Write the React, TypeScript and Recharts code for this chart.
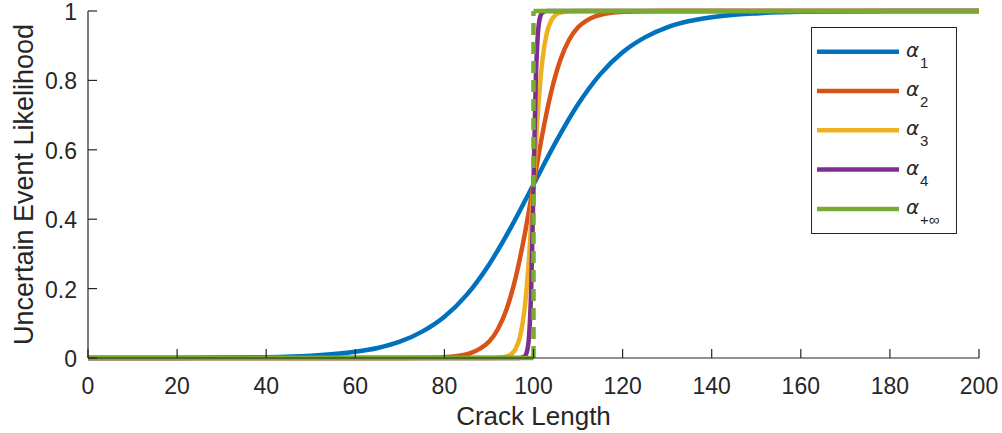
import { Label, Line, LineChart, XAxis, YAxis } from "recharts";

// values (crack length -> likelihood)
const alpha1X = [0, 20, 40, 50, 60, 65, 70, 75, 80, 85, 90, 95, 100, 105, 110, 115, 120, 125, 130, 135, 140, 150, 160, 180, 200];
const alpha1Y = [0.00005, 0.0003, 0.0025, 0.0067, 0.018, 0.029, 0.047, 0.076, 0.119, 0.182, 0.269, 0.378, 0.5, 0.622, 0.731, 0.818, 0.881, 0.924, 0.953, 0.971, 0.982, 0.993, 0.9975, 0.9997, 1];

const alpha2X = [0, 60, 70, 75, 80, 84, 86, 88, 90, 92, 94, 96, 98, 100, 102, 104, 106, 108, 110, 112, 114, 116, 120, 125, 130, 140, 200];
const alpha2Y = [0, 0, 0.0001, 0.0006, 0.0025, 0.008, 0.015, 0.027, 0.047, 0.083, 0.142, 0.232, 0.354, 0.5, 0.646, 0.768, 0.858, 0.917, 0.953, 0.973, 0.985, 0.992, 0.9975, 0.9995, 0.9999, 1, 1];

const alpha3X = [0, 90, 92, 94, 95, 96, 97, 98, 99, 100, 101, 102, 103, 104, 105, 106, 108, 110, 200];
const alpha3Y = [0, 0.0001, 0.0008, 0.0045, 0.011, 0.027, 0.063, 0.142, 0.289, 0.5, 0.711, 0.858, 0.937, 0.973, 0.989, 0.9955, 0.9993, 0.9999, 1];

const alpha4X = [0, 97, 98, 98.5, 99, 99.5, 100, 100.5, 101, 101.5, 102, 103, 200];
const alpha4Y = [0, 0.0003, 0.0045, 0.017, 0.063, 0.206, 0.5, 0.794, 0.937, 0.983, 0.9955, 0.9997, 1];

const alphaInfX = [0, 100, 100, 100, 200];
const alphaInfY: (number | null)[] = [0, 0, null, 1, 1];
const stepX = [100, 100];
const stepY = [0, 1];

const seriesNames = ["1", "2", "3", "4", "+∞"];
const seriesColors = ["#0072BD", "#D95319", "#EDB120", "#7E2F8E", "#77AC30"];

const xTicks = [0, 20, 40, 60, 80, 100, 120, 140, 160, 180, 200];
const yTicks = [0, 0.2, 0.4, 0.6, 0.8, 1];

const toPoints = (xs: number[], ys: (number | null)[]) => xs.map((x, i) => ({ x, y: ys[i] }));

const curves = [
  toPoints(alpha1X, alpha1Y),
  toPoints(alpha2X, alpha2Y),
  toPoints(alpha3X, alpha3Y),
  toPoints(alpha4X, alpha4Y),
];

const ink = "#262626";
const font = "'Liberation Sans', Arial, sans-serif";

function XTick({ x, y, payload }: any) {
  return (
    <g>
      <line x1={x} x2={x} y1={y} y2={y - 9} stroke={ink} strokeWidth={1.2} />
      <text x={x} y={y + 36} textAnchor="middle" fontSize={23} fill={ink} fontFamily={font}>
        {payload.value}
      </text>
    </g>
  );
}

function YTick({ x, y, payload }: any) {
  return (
    <g>
      <line x1={x} x2={x + 9} y1={y} y2={y} stroke={ink} strokeWidth={1.2} />
      <text x={x - 11} y={y + 9} textAnchor="end" fontSize={23} fill={ink} fontFamily={font}>
        {String(payload.value)}
      </text>
    </g>
  );
}

function LegendBox() {
  const rowGap = 39.3;
  return (
    <svg width={146} height={207} style={{ position: "absolute", left: 811, top: 27 }}>
      <rect x={0.5} y={0.5} width={145} height={206} fill="#fff" stroke={ink} strokeWidth={1} />
      {seriesNames.map((name, i) => {
        const cy = 24.7 + rowGap * i;
        return (
          <g key={name}>
            <line x1={6} x2={88} y1={cy} y2={cy} stroke={seriesColors[i]} strokeWidth={4.5} />
            <text x={95} y={cy + 5} fontSize={20} fontStyle="italic" fill={ink} fontFamily="'DejaVu Sans', sans-serif">
              α
            </text>
            <text x={109} y={cy + 16} fontSize={15} fill={ink} fontFamily={font}>
              {name}
            </text>
          </g>
        );
      })}
    </svg>
  );
}

export default function App() {
  return (
    <div style={{ position: "absolute", left: 0, top: 0, width: 1002, height: 433, background: "#fff" }}>
      <LineChart width={1002} height={433} margin={{ top: 11, right: 23, bottom: 0, left: 0 }}>
        <XAxis
          type="number"
          dataKey="x"
          domain={[0, 200]}
          ticks={xTicks}
          interval={0}
          height={75}
          tickSize={0}
          tickMargin={0}
          tickLine={false}
          axisLine={{ stroke: ink, strokeWidth: 1.2 }}
          tick={(p: any) => <XTick {...p} />}
        >
          <Label
            content={({ viewBox }: any) => (
              <text
                x={viewBox.x + viewBox.width / 2}
                y={viewBox.y + 67}
                textAnchor="middle"
                fontSize={26}
                fill={ink}
                fontFamily={font}
              >
                Crack Length
              </text>
            )}
          />
        </XAxis>
        <YAxis
          type="number"
          domain={[0, 1]}
          ticks={yTicks}
          interval={0}
          width={88}
          tickSize={0}
          tickMargin={0}
          tickLine={false}
          axisLine={{ stroke: ink, strokeWidth: 1.2 }}
          tick={(p: any) => <YTick {...p} />}
        >
          <Label
            content={({ viewBox }: any) => {
              const cx = 33;
              const cy = viewBox.y + viewBox.height / 2;
              return (
                <text
                  x={cx}
                  y={cy}
                  transform={`rotate(-90 ${cx} ${cy})`}
                  textAnchor="middle"
                  fontSize={27}
                  fill={ink}
                  fontFamily={font}
                >
                  Uncertain Event Likelihood
                </text>
              );
            }}
          />
        </YAxis>
        {curves.map((pts, i) => (
          <Line
            key={seriesNames[i]}
            data={pts}
            dataKey="y"
            type="monotone"
            stroke={seriesColors[i]}
            strokeWidth={4.5}
            dot={false}
            activeDot={false}
            isAnimationActive={false}
          />
        ))}
        <Line
          data={toPoints(alphaInfX, alphaInfY)}
          dataKey="y"
          type="linear"
          stroke={seriesColors[4]}
          strokeWidth={4.5}
          dot={false}
          activeDot={false}
          connectNulls={false}
          isAnimationActive={false}
        />
        <Line
          data={toPoints(stepX, stepY)}
          dataKey="y"
          type="linear"
          stroke={seriesColors[4]}
          strokeWidth={4.5}
          strokeDasharray="12 7"
          dot={false}
          activeDot={false}
          isAnimationActive={false}
        />
      </LineChart>
      <LegendBox />
    </div>
  );
}
